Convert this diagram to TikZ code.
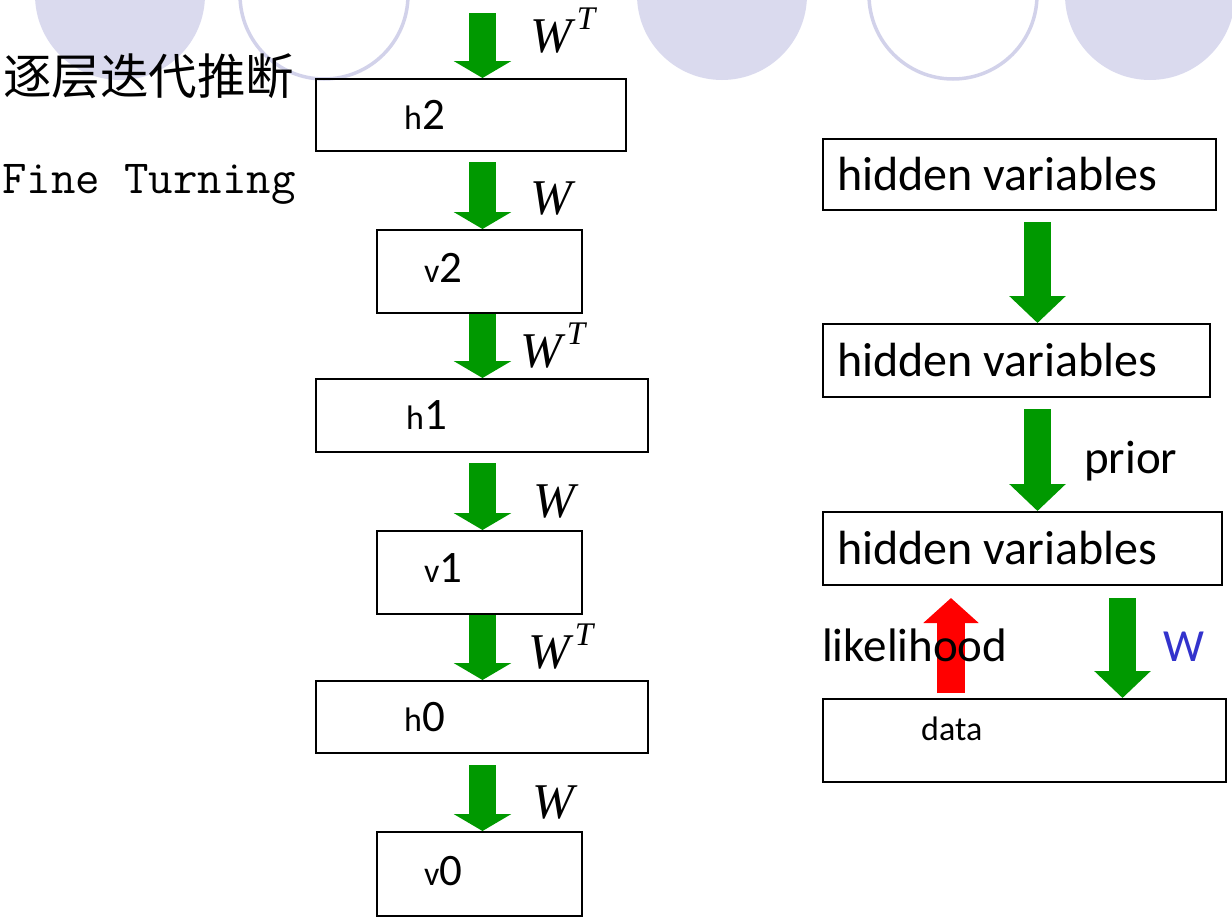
\documentclass[tikz,border=0pt]{standalone}
\usepackage{fontspec}
\setmainfont{Carlito}
\newfontfamily\cjk{Noto Sans CJK SC}
\newfontfamily\wfont{Liberation Serif}
\usetikzlibrary{arrows.meta}
\definecolor{lav}{RGB}{218,218,238}
\definecolor{lavline}{RGB}{210,210,234}
\definecolor{arrgreen}{RGB}{0,153,0}
\definecolor{wblue}{RGB}{51,51,204}
\newcommand\fsz[1]{\fontsize{#1pt}{#1pt}\selectfont}
\newcommand\lab[2]{{\fsz{34}#1}{\fsz{45}#2}}
\newcommand\wt{W\hspace{5pt}\raisebox{23pt}{\fsz{33}T}}
\tikzset{
  layer/.style={draw=black, line width=2pt, inner sep=0pt},
  txt/.style={inner sep=0pt, anchor=west},
  wlab/.style={inner sep=0pt, anchor=base west, font=\wfont\itshape\fsz{50}},
  downarrow/.style={draw=arrgreen, line width=27pt, -{Triangle[width=57pt,length=17pt]}},
  bigarrow/.style={draw=arrgreen, line width=27pt, -{Triangle[width=55pt,length=27pt]}},
  uparrow/.style={draw=red, line width=28pt, -{Triangle[width=54pt,length=25pt]}}
}
\begin{document}
\begin{tikzpicture}[x=1pt, y=-1pt]
    \useasboundingbox (0,0) rectangle (1232,921);

    \fill[lav] (120,-5) circle[radius=85pt];
    \draw[lavline, line width=3.5pt] (324,-5) circle[radius=84pt];
    \fill[lav] (722,-5) circle[radius=85pt];
    \draw[lavline, line width=3.5pt] (953,-5) circle[radius=84pt];
    \fill[lav] (1150,-5) circle[radius=85pt];

    \node[txt] (title) at (3,76) {\cjk\fsz{48.5}逐层迭代推断};
    \node[inner sep=0pt, anchor=base west] (fine) at (2,193) {\ttfamily\fsz{47.5}Fine Turning};

    \node[layer, minimum width=310pt, minimum height=72pt] (h2) at (471,115) {};
    \node[layer, minimum width=205pt, minimum height=83pt] (v2) at (479.5,271.5) {};
    \node[layer, minimum width=332pt, minimum height=73pt] (h1) at (482,415.5) {};
    \node[layer, minimum width=205pt, minimum height=83pt] (v1) at (479.5,572.5) {};
    \node[layer, minimum width=332pt, minimum height=72pt] (h0) at (482,717) {};
    \node[layer, minimum width=205pt, minimum height=84pt] (v0) at (479.5,874) {};

    \node[txt] (h2txt) at ([xshift=89pt]h2.west) {\lab{h}{2}};
    \node[txt] (v2txt) at ([xshift=48pt, yshift=4pt]v2.west) {\lab{v}{2}};
    \node[txt] (h1txt) at ([xshift=91pt]h1.west) {\lab{h}{1}};
    \node[txt] (v1txt) at ([xshift=48pt, yshift=4pt]v1.west) {\lab{v}{1}};
    \node[txt] (h0txt) at ([xshift=89pt]h0.west) {\lab{h}{0}};
    \node[txt] (v0txt) at ([xshift=48pt, yshift=3pt]v0.west) {\lab{v}{0}};

    \coordinate (ax) at (482.5,13);
    \draw[downarrow] (ax) -- (ax |- h2.north);
    \draw[downarrow, shorten <=10pt] (ax |- h2.south) -- (ax |- v2.north);
    \draw[downarrow] (ax |- v2.south) -- (ax |- h1.north);
    \draw[downarrow, shorten <=10pt] (ax |- h1.south) -- (ax |- v1.north);
    \draw[downarrow] (ax |- v1.south) -- (ax |- h0.north);
    \draw[downarrow, shorten <=11pt] (ax |- h0.south) -- (ax |- v0.north);

    \node[wlab] (w0) at (530,52) {\wt};
    \node[wlab] (w1) at (530,214) {W};
    \node[wlab] (w2) at (520,367) {\wt};
    \node[wlab] (w3) at (533,517) {W};
    \node[wlab] (w4) at (528,668) {\wt};
    \node[wlab] (w5) at (532,818) {W};

    \node[layer, minimum width=393pt, minimum height=71pt] (hv1) at (1019.5,174.5) {};
    \node[layer, minimum width=387pt, minimum height=73pt] (hv2) at (1016.5,360.5) {};
    \node[layer, minimum width=399pt, minimum height=73pt] (hv3) at (1022.5,548.5) {};
    \node[layer, minimum width=403pt, minimum height=83pt] (data) at (1024.5,740.5) {};

    \node[txt] (hv1txt) at ([xshift=15pt]hv1.west) {\fsz{48}hidden variables};
    \node[txt] (hv2txt) at ([xshift=15pt]hv2.west) {\fsz{48}hidden variables};
    \node[txt] (hv3txt) at ([xshift=15pt]hv3.west) {\fsz{48}hidden variables};
    \node[inner sep=0pt, anchor=base west] (datatxt) at (921,740) {\fsz{34}data};

    \coordinate (bx) at (1037.5,0);
    \coordinate (cx) at (1122.5,0);
    \coordinate (rx) at (951,0);
    \draw[bigarrow, shorten <=11pt] (bx |- hv1.south) -- (bx |- hv2.north);
    \draw[bigarrow, shorten <=11pt] (bx |- hv2.south) -- (bx |- hv3.north);
    \draw[bigarrow, shorten <=12pt] (cx |- hv3.south) -- (cx |- data.north);
    \draw[uparrow, shorten <=5pt, shorten >=12pt] (rx |- data.north) -- (rx |- hv3.south);

    \node[inner sep=0pt, anchor=base west] (prior) at (1084,473) {\fsz{47}prior};
    \node[inner sep=0pt, anchor=base west] (lik) at (822,661) {\fsz{47}likelihood};
    \node[inner sep=0pt, anchor=base west, text=wblue] (wb) at (1163,661) {\fsz{46}W};
\end{tikzpicture}
\end{document}
